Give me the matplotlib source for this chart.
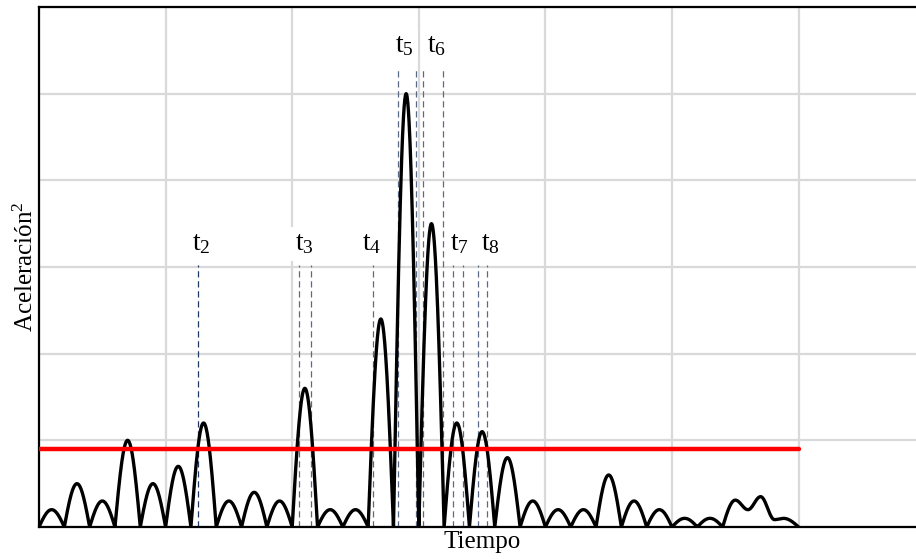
import numpy as np
import matplotlib
matplotlib.use("Agg")
import matplotlib.pyplot as plt

plt.rcParams["font.family"] = ["Liberation Serif", "DejaVu Serif"]
plt.rcParams["mathtext.fontset"] = "custom"
plt.rcParams["mathtext.rm"] = "Liberation Serif"
plt.rcParams["mathtext.it"] = "Liberation Serif:italic"

# signal extrema (time, acceleration^2)
knot_t = [0.0, 0.1, 0.2, 0.3, 0.4, 0.5, 0.6, 0.7, 0.8, 0.9, 1.0, 1.1, 1.2, 1.3,
          1.4, 1.5, 1.6, 1.7, 1.8, 1.9, 2.0, 2.1, 2.2, 2.3, 2.4, 2.5, 2.6, 2.7,
          2.8, 2.9, 3.0, 3.1, 3.2, 3.3, 3.4, 3.5, 3.6, 3.7, 3.8, 3.9, 4.0, 4.1,
          4.2, 4.3, 4.4, 4.5, 4.6, 4.7, 4.8, 4.9, 5.0, 5.1, 5.2, 5.3, 5.4, 5.5,
          5.6, 5.7, 5.81, 5.88, 6.0]
knot_a = [0.0, 0.2, 0.0, 0.5, 0.0, 0.3, 0.0, 1.0, 0.0, 0.5, 0.0, 0.7, 0.0, 1.2,
          0.0, 0.3, 0.0, 0.4, 0.0, 0.3, 0.0, 1.6, 0.0, 0.2, 0.0, 0.2, 0.0, 2.4,
          0.0, 5.0, 0.0, 3.5, 0.0, 1.2, 0.0, 1.1, 0.0, 0.8, 0.0, 0.3, 0.0, 0.2,
          0.0, 0.2, 0.0, 0.6, 0.0, 0.3, 0.0, 0.2, 0.0, 0.1, 0.0, 0.1, 0.0, 0.31,
          0.2, 0.35, 0.085, 0.1, 0.0]

threshold = 0.9
threshold_end = 6.0

# threshold crossing marks
mark_x = [1.258, 2.054, 2.151, 2.636, 2.838, 2.978, 3.036, 3.189,
          3.268, 3.347, 3.465, 3.536]
mark_top = [3.02, 3.02, 3.02, 3.02, 5.29, 5.29, 5.29, 5.29,
            3.02, 3.02, 3.02, 3.02]
label_txt = ["2", "3", "4", "5", "6", "7", "8"]
label_x = [1.28, 2.093, 2.63, 2.883, 3.144, 3.325, 3.57]
label_y = [3.19, 3.19, 3.19, 5.48, 5.48, 3.19, 3.19]


def smooth_curve(kx, ky, n=40):
    xs, ys = [], []
    for i in range(len(kx) - 1):
        x0, x1, y0, y1 = kx[i], kx[i + 1], ky[i], ky[i + 1]
        s = np.linspace(0, 1, n)
        if y0 == 0:
            y = y1 * np.sin(np.pi / 2 * s)
        elif y1 == 0:
            y = y0 * np.cos(np.pi / 2 * s)
        else:
            y = y0 + (y1 - y0) * (1 - np.cos(np.pi * s)) / 2
        xs.append(x0 + (x1 - x0) * s)
        ys.append(y)
    return np.concatenate(xs), np.concatenate(ys)


W, H = 916, 559
fig = plt.figure(figsize=(W / 100, H / 100), dpi=100)
left, bottom, top = 39, 527, 7
ax = fig.add_axes([left / W, (H - bottom) / H, 7 * 126.6 / W, (bottom - top) / H])
ax.set_xlim(0, 7)
ax.set_ylim(0, 6)
ax.set_xticks(range(8))
ax.set_yticks(range(7))
ax.tick_params(length=0, labelbottom=False, labelleft=False)
ax.grid(True, color="#d9d9d9", lw=1.6)
ax.set_axisbelow(True)
for s in ["left", "bottom", "top"]:
    ax.spines[s].set_linewidth(1.6)
    ax.spines[s].set_color("black")
ax.spines["right"].set_visible(False)

for i, (mx, mt) in enumerate(zip(mark_x, mark_top)):
    col = "#1f3864" if i == 0 else "#5a6a85"
    ln, = ax.plot([mx, mx], [0, mt], color=col, lw=0.9, zorder=2)
    ln.set_dashes((5, 3))

for t, lx, ly in zip(label_txt, label_x, label_y):
    ax.text(lx, ly, r"$\mathrm{t}_{%s}$" % t, ha="center", va="baseline",
            fontsize=20, zorder=3,
            bbox=dict(facecolor="white", edgecolor="none", pad=3))

cx, cy = smooth_curve(knot_t, knot_a)
ax.plot(cx, cy, color="black", lw=2.4, zorder=4)
ax.plot([0, threshold_end], [threshold, threshold], color="red", lw=3.2,
        solid_capstyle="round", zorder=5)

ax.set_xlabel("Tiempo", fontsize=18, labelpad=3)
ax.set_ylabel(r"Aceleración$^{2}$", fontsize=18, labelpad=1)

fig.savefig("out.png", dpi=100)
